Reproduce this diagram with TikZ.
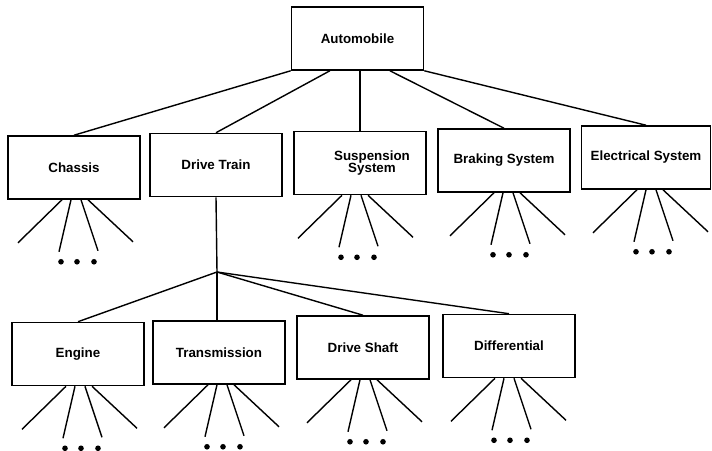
\documentclass[tikz,border=0pt]{standalone}
\usepackage{fontspec}
\setmainfont{Liberation Sans}
\usetikzlibrary{positioning}

% fan of sub-branches under a box, #2 = sideways shift
\newcommand{\subfan}[2]{%
  \begin{scope}[shift={(#1.south)}, shift={(#2,0)}]
    \draw (-12,0) -- (-56,43);
    \draw (-3,0) -- (-15,52);
    \draw (7,0) -- (24,51);
    \draw (14,0) -- (59,42);
    \foreach \dx in {-13,3,20} \fill (\dx,62) circle[radius=2pt];
  \end{scope}}

\begin{document}
\begin{tikzpicture}[x=0.025cm, y=-0.025cm, line width=1pt,
    part/.style={draw, line width=1.1pt, minimum width=3.3cm, minimum height=1.575cm,
      align=center, font=\fontsize{9.5}{10}\selectfont\bfseries}]
    \useasboundingbox (0,0) rectangle (712,451);

    \node[part] (auto) at (357.5,38.5) {Automobile};

    \node[part] (chassis) at (74,167.5) {Chassis};
    \node[part] (drivetrain) at (216,165) {Drive Train};
    \node[part] (suspension) at (360,163) {\hspace*{0.6cm}Suspension\\[-2pt]\hspace*{0.6cm}System};
    \node[part] (braking) at (504,160.5) {Braking System};
    \node[part, minimum width=3.225cm] (electrical) at (646,157.5) {Electrical System};

    \draw (auto.south west) -- (chassis.north);
    \draw ([xshift=-0.69cm]auto.south) -- (drivetrain.north);
    \draw (suspension.north |- auto.south) -- (suspension.north);
    \draw ([xshift=0.81cm]auto.south) -- (braking.north);
    \draw (auto.south east) -- (electrical.north);

    \coordinate (hub) at (217,272);
    \node[part] (engine) at (78,354) {Engine};
    \node[part] (transmission) at (219,352.5) {Transmission};
    \node[part] (driveshaft) at (363,347.5) {Drive Shaft};
    \node[part] (differential) at (509,346) {Differential};

    \draw (drivetrain.south) -- (hub);
    \draw (hub) -- (engine.north);
    \draw (hub) -- (hub |- transmission.north);
    \draw (hub) -- (driveshaft.north);
    \draw (hub) -- (differential.north);

    \subfan{chassis}{0}
    \subfan{suspension}{-6}
    \subfan{braking}{2}
    \subfan{electrical}{3}
    \subfan{engine}{0}
    \subfan{transmission}{1}
    \subfan{driveshaft}{0}
    \subfan{differential}{-2}
\end{tikzpicture}
\end{document}
